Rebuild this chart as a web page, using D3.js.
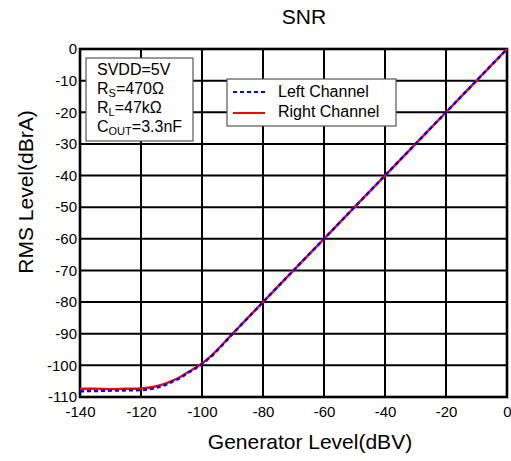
<!DOCTYPE html>
<html><head><meta charset="utf-8">
<script src="https://cdn.jsdelivr.net/npm/d3@7"></script>
<style>body{margin:0;background:#fff}svg{display:block}text{font-family:"Liberation Sans",Arial,sans-serif;fill:#000}</style>
</head><body>
<script>
const xTicks = [-140,-120,-100,-80,-60,-40,-20,0];
const yTicks = [0,-10,-20,-30,-40,-50,-60,-70,-80,-90,-100,-110];
const genLevel = [-140,-135,-130,-125,-120,-117,-115,-112,-110,-107,-105,-102,-100,-97,-95,-90,-80,-60,-40,-20,0];
const leftCh  = [-108.2,-108.1,-108.0,-107.9,-107.8,-107.5,-107.1,-106.2,-105.3,-103.9,-102.6,-100.9,-99.6,-97.2,-95.3,-90.1,-80.0,-60.0,-40.0,-20.0,0];
const rightCh = [-107.4,-107.4,-107.5,-107.4,-107.3,-107.0,-106.6,-105.8,-105.0,-103.6,-102.4,-100.7,-99.4,-97.0,-95.1,-90.0,-80.0,-60.0,-40.0,-20.0,0];
const seriesNames = ["Left Channel","Right Channel"];

const W=511,H=461, m={l:80,r:4,t:49,b:64};
const svg=d3.select("body").append("svg").attr("width",W).attr("height",H);
const x=d3.scaleLinear().domain([-140,0]).range([m.l,W-m.r]);
const y=d3.scaleLinear().domain([-110,0]).range([H-m.b,m.t]);

// grid
svg.append("g").selectAll("line").data(xTicks).join("line")
  .attr("x1",d=>x(d)).attr("x2",d=>x(d)).attr("y1",y(0)).attr("y2",y(-110))
  .attr("stroke","#000").attr("stroke-width",2);
svg.append("g").selectAll("line").data(yTicks).join("line")
  .attr("y1",d=>y(d)).attr("y2",d=>y(d)).attr("x1",x(-140)).attr("x2",x(0))
  .attr("stroke","#000").attr("stroke-width",2);
svg.append("rect").attr("x",x(-140)).attr("y",y(0)).attr("width",x(0)-x(-140)).attr("height",y(-110)-y(0))
  .attr("fill","none").attr("stroke","#000").attr("stroke-width",2.6);

// axes labels via d3 axes
const xa=svg.append("g").attr("transform",`translate(0,${y(-110)})`)
  .call(d3.axisBottom(x).tickValues(xTicks).tickSize(0).tickPadding(9).tickFormat(d=>String(d)));
const ya=svg.append("g").attr("transform",`translate(${x(-140)},0)`)
  .call(d3.axisLeft(y).tickValues(yTicks).tickSize(0).tickPadding(3).tickFormat(d=>String(d)));
[xa,ya].forEach(a=>{a.attr("font-size",15).attr("font-family",null);a.select(".domain").remove();a.selectAll("text").attr("font-size",15);});

// lines
const line=d3.line().x(d=>x(d[0])).y(d=>y(d[1])).curve(d3.curveMonotoneX);
svg.append("path").datum(genLevel.map((g,i)=>[g,rightCh[i]])).attr("d",line)
  .attr("fill","none").attr("stroke","#ff0000").attr("stroke-width",2.4);
svg.append("path").datum(genLevel.map((g,i)=>[g,leftCh[i]])).attr("d",line)
  .attr("fill","none").attr("stroke","#0000ff").attr("stroke-width",2.4).attr("stroke-dasharray","4,3");

// title & axis titles
svg.append("text").attr("x",304).attr("y",24).attr("text-anchor","middle").attr("font-size",21).text("SNR");
svg.append("text").attr("x",310).attr("y",449).attr("text-anchor","middle").attr("font-size",21).text("Generator Level(dBV)");
svg.append("text").attr("transform","translate(33,192) rotate(-90)").attr("text-anchor","middle").attr("font-size",21).text("RMS Level(dBrA)");

// params box
svg.append("rect").attr("x",86).attr("y",58).attr("width",107).attr("height",83)
  .attr("fill","#fff").attr("stroke","#555").attr("stroke-width",1.2);
const pg=svg.append("g").attr("font-size",16);
const addP=(yy,parts)=>{const t=pg.append("text").attr("x",97).attr("y",yy);
  parts.forEach(p=>{const s=t.append("tspan").text(p[0]); if(p[1]){s.attr("font-size",11).attr("dy",3);} else if(p[2]) {s.attr("dy",-3);} });};
addP(75,[["SVDD=5V"]]);
addP(94,[["R"],["S",1],["=470Ω",0,1]]);
addP(113,[["R"],["L",1],["=47kΩ",0,1]]);
addP(132,[["C"],["OUT",1],["=3.3nF",0,1]]);

// series legend
svg.append("rect").attr("x",227).attr("y",79).attr("width",169).attr("height",47)
  .attr("fill","#fff").attr("stroke","#555").attr("stroke-width",1.2);
const lg=svg.append("g");
lg.append("line").attr("x1",233).attr("x2",265).attr("y1",92).attr("y2",92)
  .attr("stroke","#0000ff").attr("stroke-width",2).attr("stroke-dasharray","4,3");
lg.append("line").attr("x1",233).attr("x2",265).attr("y1",113).attr("y2",113)
  .attr("stroke","#ff0000").attr("stroke-width",2);
lg.selectAll("text").data(seriesNames).join("text").attr("x",278).attr("y",(d,i)=>97+i*20)
  .attr("font-size",16).text(d=>d);
</script>
</body></html>
